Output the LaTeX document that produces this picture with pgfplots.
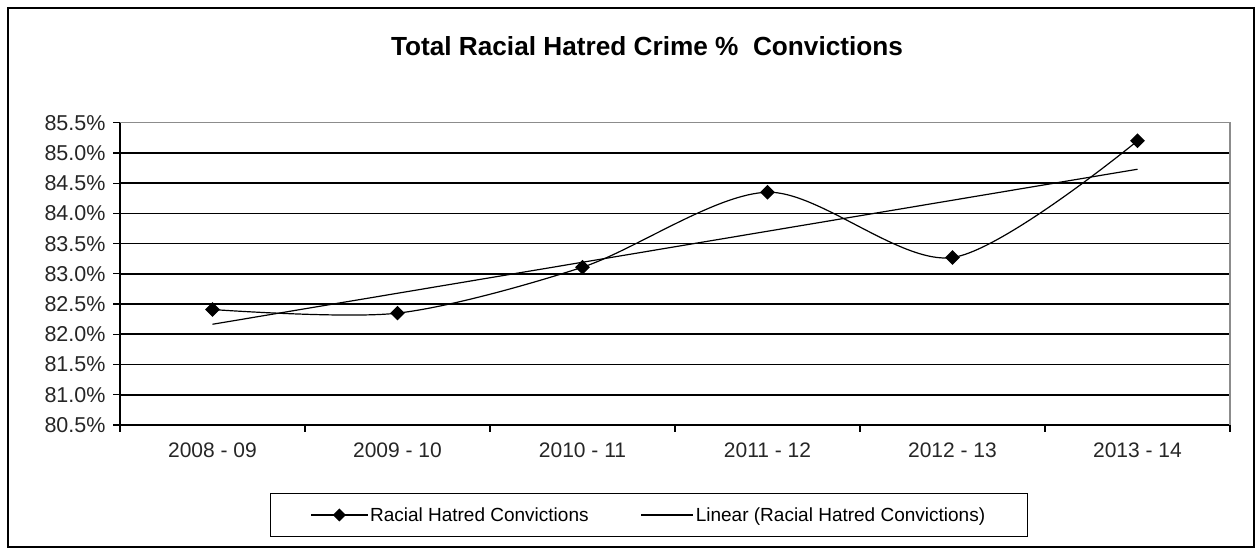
\documentclass[border=0pt]{standalone}
\usepackage{fontspec}
\setmainfont{Liberation Sans}
\usepackage{pgfplots}
\usepackage{pgfplotstable}
\pgfplotsset{compat=1.18}
\pgfplotsset{
  datalegend/.style={legend image code/.code={\draw[mark repeat=2, mark phase=2, ##1, mark size=4pt] plot coordinates {(0pt,0pt) (28pt,0pt) (56pt,0pt)};}},
  trendlegend/.style={legend image code/.code={\draw[##1] (0pt,0pt) -- (52pt,0pt);}},
}
\pgfplotstableread{
x v
0 82.41
1 82.35
2 83.11
3 84.35
4 83.27
5 85.20
}\convdata
\begin{document}
\begin{tikzpicture}[x=1pt,y=1pt]
\useasboundingbox (0,0) rectangle (1258,553);
\draw[black, line width=1.2pt] (8,6) rectangle (1254,545);
\node[anchor=base, font=\fontsize{26.2}{31}\selectfont\bfseries] at (647,497) {Total Racial Hatred Crime \%\ \ Convictions};
\begin{axis}[
  at={(120pt,128pt)}, anchor=south west,
  scale only axis, width=1110pt, height=302.3pt,
  xmin=-0.5, xmax=5.5, ymin=80.5, ymax=85.5,
  axis line style={draw=none},
  xtick={-0.5,0.5,1.5,2.5,3.5,4.5,5.5},
  x tick label as interval,
  xticklabels={2008 - 09,2009 - 10,2010 - 11,2011 - 12,2012 - 13,2013 - 14},
  ytick={80.5,81,81.5,82,82.5,83,83.5,84,84.5,85,85.5},
  extra y ticks={81,81.5,82,82.5,83,83.5,84,84.5,85},
  extra y tick style={ymajorgrids=true, major tick length=0pt},
  extra y tick labels={},
  major grid style={black, line width=1.7pt},
  tick align=outside, xtick pos=bottom, ytick pos=left,
  major tick length=7pt,
  tick style={black, line width=1.2pt},
  /pgf/number format/assume math mode=true,
  yticklabel={\pgfmathprintnumber[fixed,fixed zerofill,precision=1]{\tick}\%},
  yticklabel style={font=\fontsize{21.5}{25}\selectfont, text=black!85, xshift=-4pt},
  xticklabel style={font=\fontsize{21}{25}\selectfont, text=black!85, yshift=-7pt},
  clip=false,
  legend columns=2,
  legend style={at={(0.4766,-0.2977)}, anchor=center, draw=black, line width=1.2pt,
    font=\fontsize{19}{22}\selectfont, inner xsep=40pt, inner ysep=12pt,
    /tikz/every even column/.append style={column sep=50pt}},
  legend cell align=left,
]
\draw[black, line width=1.3pt] (rel axis cs:0,0) -- (rel axis cs:1,0);
\draw[black, line width=1.3pt] (rel axis cs:0,0) -- (rel axis cs:0,1);
\draw[black!45, line width=1.3pt] (rel axis cs:0,1) -- (rel axis cs:1,1) -- (rel axis cs:1,0);
\addplot[black, line width=1.2pt, smooth, mark=square*, mark size=4.6pt,
  mark options={rotate=45, solid}, datalegend]
  table[x=x, y=v] {\convdata};
\addlegendentry{Racial Hatred Convictions}
\addplot[black, line width=1.2pt, no marks, trendlegend]
  table[x=x, y={create col/linear regression={y=v}}] {\convdata};
\addlegendentry{Linear (Racial Hatred Convictions)}
\end{axis}
\end{tikzpicture}
\end{document}
